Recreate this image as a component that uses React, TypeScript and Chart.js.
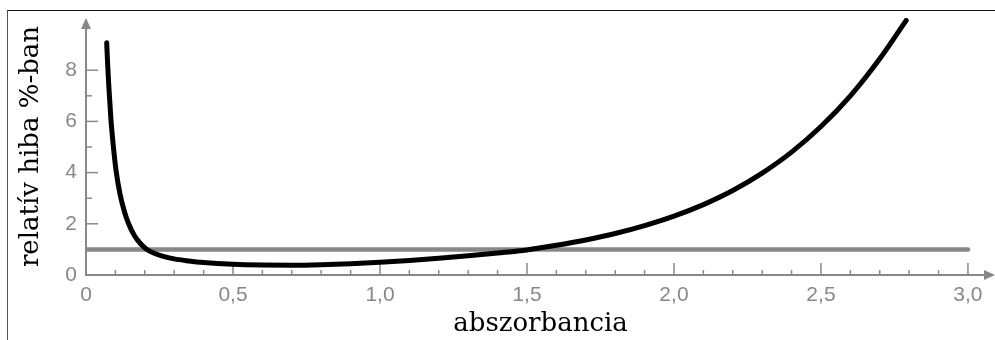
import React, { useEffect, useRef } from "react";
import { Chart, registerables } from "chart.js";

Chart.register(...registerables);

// Absorbance (x) and relative error in % (y)
const absorbance = [
  0.0704, 0.074, 0.078, 0.085, 0.092, 0.102, 0.115, 0.13, 0.145, 0.165, 0.185,
  0.205, 0.23, 0.26, 0.3, 0.35, 0.4, 0.5, 0.6, 0.7, 0.8, 0.9, 1.0, 1.1, 1.2,
  1.3, 1.4, 1.5, 1.6, 1.7, 1.8, 1.9, 2.0, 2.1, 2.2, 2.3, 2.4, 2.5, 2.6, 2.7,
  2.79,
];
const relativeError = [
  9.07, 8.15, 7.3, 6.05, 5.15, 4.1, 3.2, 2.5, 2.0, 1.53, 1.23, 1.02, 0.86,
  0.74, 0.63, 0.55, 0.49, 0.42, 0.39, 0.38, 0.4, 0.44, 0.5, 0.57, 0.65, 0.75,
  0.86, 0.98, 1.16, 1.37, 1.62, 1.93, 2.3, 2.75, 3.3, 3.98, 4.8, 5.8, 7.0,
  8.45, 9.95,
];

// Reference level (1 %)
const refLineX = [0, 3.0];
const refLineY = [1, 1];

const xTickValues = [0, 0.5, 1.0, 1.5, 2.0, 2.5, 3.0];
const yTickValues = [0, 2, 4, 6, 8];

const xTitle = "abszorbancia";
const yTitle = "relatív hiba %-ban";

const AXIS_GRAY = "#888888";
const LABEL_FONT = "'Liberation Sans', Arial, Helvetica, sans-serif";
const TITLE_FONT = "'DejaVu Serif', serif";

const arrowAxesPlugin = {
  id: "arrowAxes",
  beforeDatasetsDraw(chart: any) {
    const { ctx, chartArea } = chart;
    const xs = chart.scales.x;
    const ys = chart.scales.y;
    const x0 = xs.getPixelForValue(0);
    const y0 = ys.getPixelForValue(0);
    ctx.save();
    ctx.strokeStyle = AXIS_GRAY;
    ctx.fillStyle = AXIS_GRAY;
    ctx.lineWidth = 2;
    // x axis line + arrow
    ctx.beginPath();
    ctx.moveTo(x0 - 1, y0);
    ctx.lineTo(chartArea.right - 8, y0);
    ctx.stroke();
    ctx.beginPath();
    ctx.moveTo(chartArea.right, y0);
    ctx.lineTo(chartArea.right - 11, y0 - 5);
    ctx.lineTo(chartArea.right - 11, y0 + 5);
    ctx.closePath();
    ctx.fill();
    // y axis line + arrow
    ctx.beginPath();
    ctx.moveTo(x0, y0 + 1);
    ctx.lineTo(x0, chartArea.top + 8);
    ctx.stroke();
    ctx.beginPath();
    ctx.moveTo(x0, chartArea.top);
    ctx.lineTo(x0 - 5, chartArea.top + 11);
    ctx.lineTo(x0 + 5, chartArea.top + 11);
    ctx.closePath();
    ctx.fill();
    // tick marks drawn inside the plot
    ctx.lineWidth = 1.5;
    for (let i = 1; i <= 30; i++) {
      const px = xs.getPixelForValue(i / 10);
      const len = i % 5 === 0 ? 12 : 5;
      ctx.beginPath();
      ctx.moveTo(px, y0);
      ctx.lineTo(px, y0 - len);
      ctx.stroke();
    }
    for (let j = 1; j <= 8; j++) {
      const py = ys.getPixelForValue(j);
      const len = j % 2 === 0 ? 12 : 6;
      ctx.beginPath();
      ctx.moveTo(x0, py);
      ctx.lineTo(x0 + len, py);
      ctx.stroke();
    }
    ctx.restore();
  },
};

export default function App() {
  const canvasRef = useRef<HTMLCanvasElement>(null);

  useEffect(() => {
    const canvas = canvasRef.current;
    if (!canvas) return;
    const curve = absorbance.map((a, i) => ({ x: a, y: relativeError[i] }));
    const ref = refLineX.map((a, i) => ({ x: a, y: refLineY[i] }));
    const chart = new Chart(canvas, {
      type: "line",
      data: {
        datasets: [
          {
            data: curve,
            borderColor: "#000000",
            borderWidth: 5,
            borderCapStyle: "round",
            borderJoinStyle: "round",
            cubicInterpolationMode: "monotone",
            pointRadius: 0,
            fill: false,
          },
          {
            data: ref,
            borderColor: AXIS_GRAY,
            borderWidth: 4.5,
            borderCapStyle: "round",
            pointRadius: 0,
            fill: false,
          },
        ],
      },
      options: {
        animation: false,
        responsive: false,
        parsing: false as any,
        layout: { padding: { top: 7, left: 0, right: 0, bottom: 0 } },
        plugins: {
          legend: { display: false },
          tooltip: { enabled: false },
        },
        scales: {
          x: {
            type: "linear",
            min: 0,
            max: 3.092,
            grid: { display: false, drawTicks: false },
            border: { display: false },
            afterBuildTicks: (s: any) => {
              s.ticks = xTickValues.map((v) => ({ value: v }));
            },
            afterFit: (s: any) => {
              s.height = 65;
              s.paddingLeft = 0;
              s.paddingRight = 0;
            },
            ticks: {
              color: AXIS_GRAY,
              font: { family: LABEL_FONT, size: 21 },
              padding: 8,
              maxRotation: 0,
              autoSkip: false,
              callback: (v: any) =>
                Math.abs(v) < 1e-9 ? "0" : Number(v).toFixed(1).replace(".", ","),
            },
            title: {
              display: true,
              text: xTitle,
              color: "#000000",
              font: { family: TITLE_FONT, size: 26 },
              padding: 0,
            },
          },
          y: {
            type: "linear",
            min: 0,
            max: 10.04,
            grid: { display: false, drawTicks: false },
            border: { display: false },
            afterBuildTicks: (s: any) => {
              s.ticks = yTickValues.map((v) => ({ value: v }));
            },
            afterFit: (s: any) => {
              s.width = 78;
              s.paddingTop = 0;
              s.paddingBottom = 0;
            },
            ticks: {
              color: AXIS_GRAY,
              font: { family: LABEL_FONT, size: 21 },
              padding: 9,
              autoSkip: false,
              callback: (v: any) => String(v),
            },
            title: {
              display: true,
              text: yTitle,
              color: "#000000",
              font: { family: TITLE_FONT, size: 26 },
              padding: { top: 8, bottom: 0 },
            },
          },
        },
      },
      plugins: [arrowAxesPlugin],
    });
    return () => chart.destroy();
  }, []);

  return (
    <div
      style={{
        position: "fixed",
        left: 7,
        top: 10,
        width: 988,
        height: 330,
        boxSizing: "border-box",
        borderTop: "1px solid #111111",
        borderLeft: "1px solid #555555",
      }}
    >
      <canvas ref={canvasRef} width={987} height={329} style={{ display: "block" }} />
    </div>
  );
}
